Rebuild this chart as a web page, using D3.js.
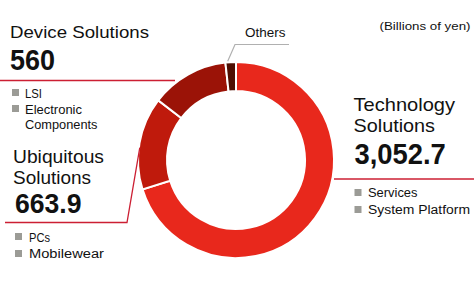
<!DOCTYPE html>
<html>
<head>
<meta charset="utf-8">
<script src="https://cdn.jsdelivr.net/npm/d3@7"></script>
<style>
  body { margin: 0; background: #fff; }
  svg { display: block; }
  text { font-family: "Liberation Sans", Arial, sans-serif; fill: #111; }
</style>
</head>
<body>
<div id="chart"></div>
<script>
let w = 474;
let h = 283;

// data
let segments = ["Technology Solutions", "Ubiquitous Solutions", "Device Solutions", "Others"];
let sales = [3052.7, 663.9, 560, 75];
let segColors = ["#e8281c", "#bf1a0c", "#9b1307", "#4f0e02"];
let subItems = [["Services", "System Platform"], ["PCs", "Mobilewear"], ["LSI", "Electronic Components"], []];
let unitLabel = "(Billions of yen)";

let cx = 236, cy = 160;
let outerR = 98, innerR = 69;

let viz = d3.select("#chart")
  .append("svg")
    .attr("width", w)
    .attr("height", h)
;

let pie = d3.pie().sort(null).value(d => d);
let arcs = pie(sales);
let arc = d3.arc().innerRadius(innerR).outerRadius(outerR);

let donut = viz.append("g").attr("transform", "translate(" + cx + "," + cy + ")");
donut.selectAll("path")
  .data(arcs)
  .enter()
  .append("path")
    .attr("d", arc)
    .attr("fill", (d, i) => segColors[i])
    .attr("stroke", "#fff")
    .attr("stroke-width", 2)
;

// helper for text with fixed width
function label(x, y, str, size, len, weight) {
  let t = viz.append("text")
    .attr("x", x)
    .attr("y", y)
    .attr("font-size", size)
    .text(str);
  if (weight) t.attr("font-weight", weight);
  if (len) t.attr("textLength", len).attr("lengthAdjust", "spacingAndGlyphs");
  return t;
}

function square(x, y) {
  viz.append("rect")
    .attr("x", x).attr("y", y)
    .attr("width", 7).attr("height", 7)
    .attr("fill", "#9b9b96");
}

let lineColor = "#cc1f33";
let fmt = d3.format(",.1f");
function fmtVal(v) { return Number.isInteger(v) ? String(v) : fmt(v); }

// leader lines, ending on the donut edge
let a1 = arcs[1], a3 = arcs[3];
function edge(angle, r) { return [cx + r * Math.sin(angle), cy - r * Math.cos(angle)]; }

// Technology Solutions
let pTech = edge(Math.PI / 2, outerR);
viz.append("line").attr("x1", pTech[0]).attr("y1", 179).attr("x2", w).attr("y2", 179)
  .attr("stroke", lineColor).attr("stroke-width", 1.3);

// Device Solutions
viz.append("line").attr("x1", 0).attr("y1", 80.5).attr("x2", 175).attr("y2", 80.5)
  .attr("stroke", lineColor).attr("stroke-width", 1.3);

// Ubiquitous Solutions
let pUbi = edge(a1.startAngle + (a1.endAngle - a1.startAngle) * 0.45, outerR);
viz.append("path")
  .attr("d", d3.line()([[5, 222.5], [127, 222.5], [pUbi[0] + 1, pUbi[1]]]))
  .attr("fill", "none").attr("stroke", lineColor).attr("stroke-width", 1.3);

// Others
let pOth = edge((a3.startAngle + a3.endAngle) / 2, outerR);
viz.append("path")
  .attr("d", d3.line()([[pOth[0] - 3, pOth[1] - 1], [235, 44.5], [289, 44.5]]))
  .attr("fill", "none").attr("stroke", "#b0b0b0").attr("stroke-width", 1.2);

// texts
label(10, 38, "Device Solutions", 17, 139);
label(10, 69.5, fmtVal(sales[2]), 30, 45, "bold");
square(12, 89); label(25, 98, subItems[2][0], 12.5, 17);
square(12, 105); label(25, 114, "Electronic", 12.5, 57);
label(25, 128.5, "Components", 12.5, 72.5);

label(13, 162.5, "Ubiquitous", 18, 91);
label(13, 183.5, "Solutions", 18, 78);
label(15, 213.3, fmtVal(sales[1]), 28, 66.5, "bold");
square(15, 233); label(29, 241.5, subItems[1][0], 12.5, 21);
square(15, 250); label(29, 258, subItems[1][1], 12.5, 75);

label(245, 36.5, segments[3], 12.5, 40.5);
label(379.5, 29.5, unitLabel, 11.5, 91);

label(353.5, 110.5, "Technology", 19, 101.5);
label(353.5, 132, "Solutions", 19, 81.5);
label(354.5, 164.3, fmtVal(sales[0]), 29, 91.3, "bold");
square(354.5, 189); label(368, 197, subItems[0][0], 12.5, 49.5);
square(354.5, 206); label(368, 213.5, subItems[0][1], 12.5, 102);
</script>
</body>
</html>
